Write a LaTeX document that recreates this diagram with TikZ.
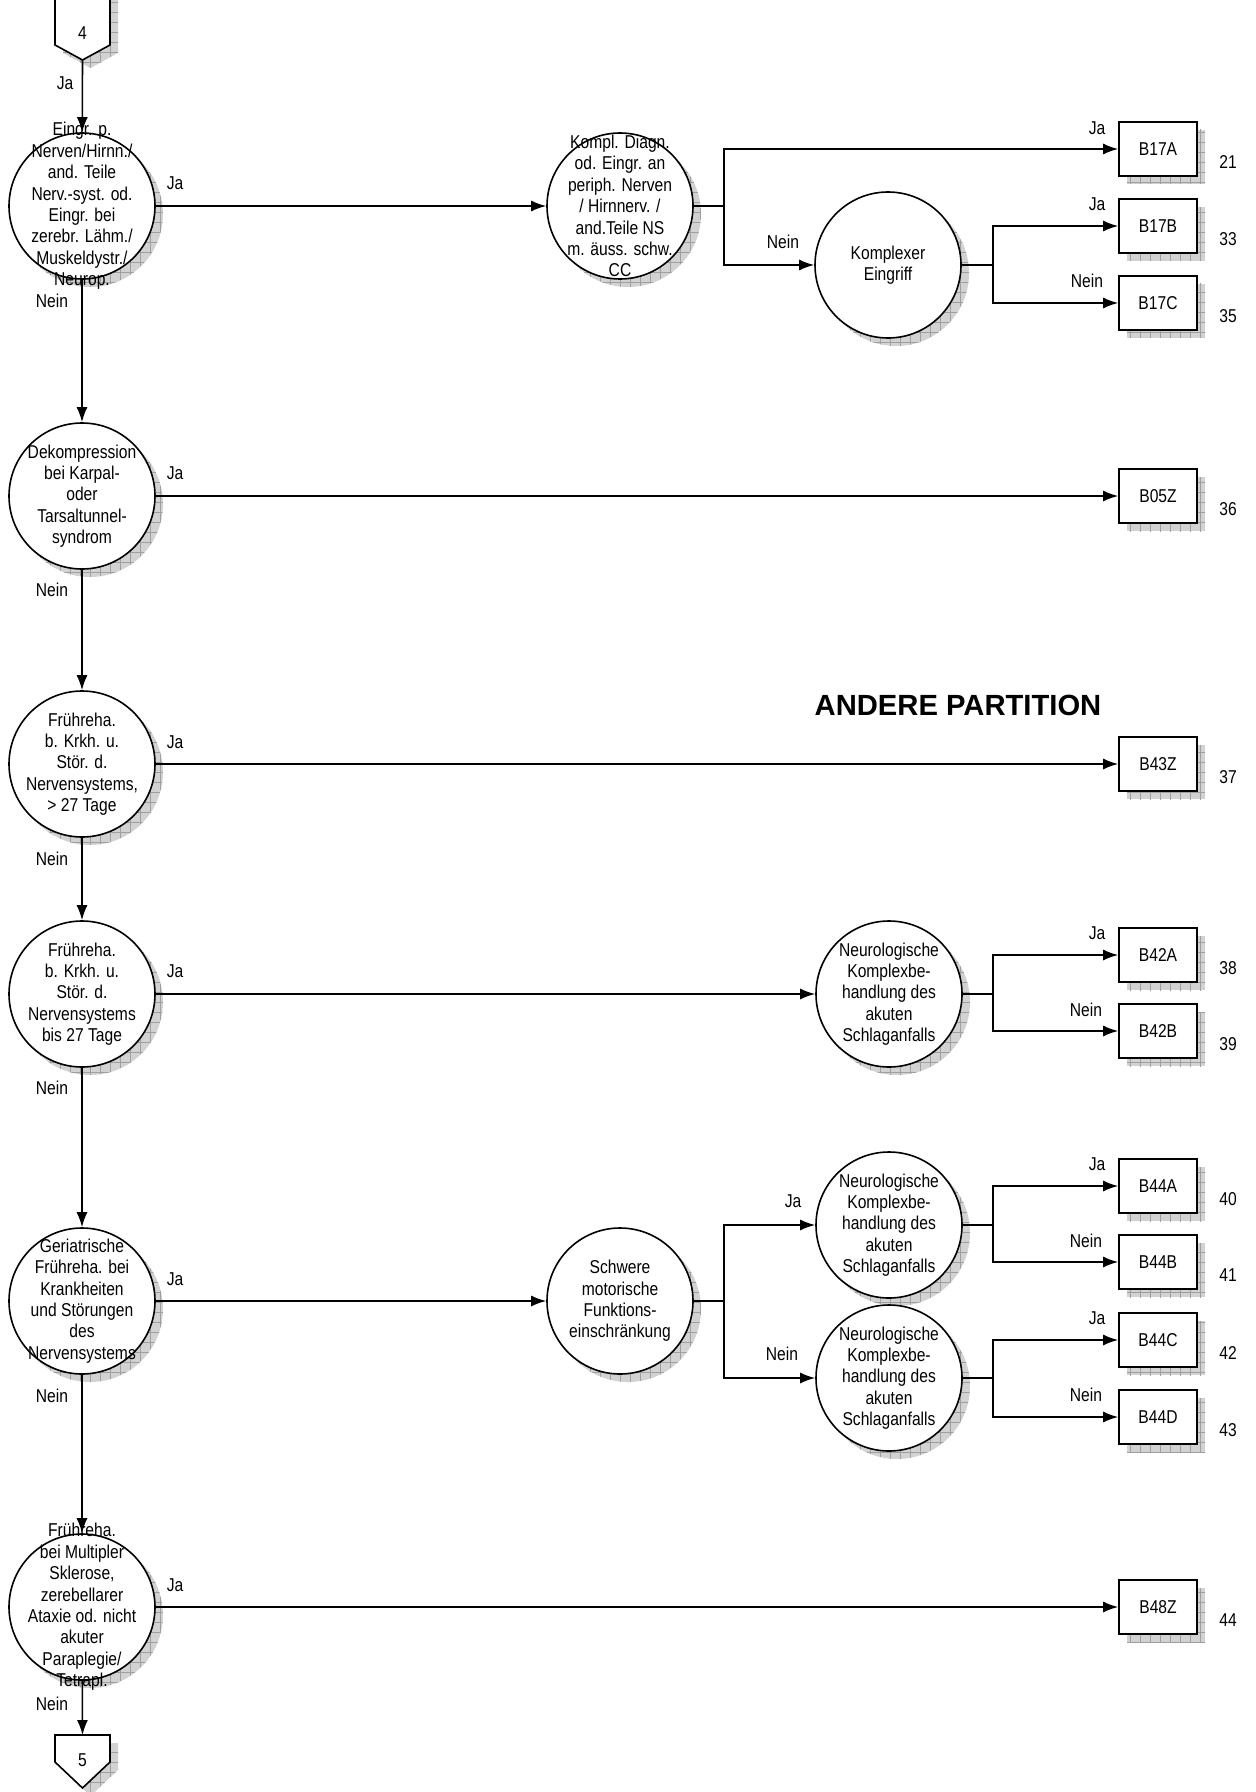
\documentclass[tikz,border=0pt]{standalone}
\usepackage{fontspec}
\setmainfont{Liberation Sans}[FakeStretch=0.84]
\newfontfamily\titelfont{Liberation Sans}
\usetikzlibrary{shapes,arrows.meta,positioning,shadows,patterns.meta}
\newcommand{\klein}{\fontsize{9.3pt}{10.7pt}\selectfont}

\begin{document}
\begin{tikzpicture}[x=0.5pt,y=-0.5pt,
  schatten/.style={drop shadow={shadow xshift=4pt,shadow yshift=-4pt,opacity=1,fill=gray!35},
      drop shadow={shadow xshift=4pt,shadow yshift=-4pt,opacity=1,
      pattern={Hatch[angle=0,distance=5pt,line width=0.3pt]},pattern color=gray!75}},
  frage/.style={draw,circle,line width=0.8pt,fill=white,minimum size=73pt,inner sep=0pt,schatten},
  fragetext/.style={align=center,font=\klein,inner sep=0pt},
  drg/.style={draw,rectangle,line width=0.8pt,fill=white,minimum width=39pt,minimum height=27pt,inner sep=0pt,font=\klein,schatten},
  lbl/.style={font=\klein,inner sep=0pt},
  linie/.style={line width=0.8pt},
  pfeil/.style={line width=0.8pt,-{Latex[length=7.5pt,width=5.5pt]}}]
\useasboundingbox (0,0) rectangle (1255,1792);

% Anschluss 4
\draw[linie,fill=white,schatten] (55,-10) -- (110,-10) -- (110,45) -- (82.5,60) -- (55,45) -- cycle;
\node[lbl] (a4) at (82.5,33) {4};
\coordinate (a4spitze) at (82.5,60);

% Hauptspalte
\node[frage] (k1) at (82,206) {};
\node[fragetext] (k1t) at (k1) {Eingr. p.\\Nerven/Hirnn./\\and. Teile\\Nerv.-syst. od.\\Eingr. bei\\zerebr. Lähm./\\Muskeldystr./\\Neurop.};
\node[frage] (k2) at (82,496) {};
\node[fragetext] (k2t) at (k2) {Dekompression\\bei Karpal-\\oder\\Tarsaltunnel-\\syndrom};
\node[frage] (k3) at (82,764) {};
\node[fragetext] (k3t) at (k3) {Frühreha.\\b. Krkh. u.\\Stör. d.\\Nervensystems,\\> 27 Tage};
\node[frage] (k4) at (82,994) {};
\node[fragetext] (k4t) at (k4) {Frühreha.\\b. Krkh. u.\\Stör. d.\\Nervensystems\\bis 27 Tage};
\node[frage] (k5) at (82,1301) {};
\node[fragetext] (k5t) at (k5) {Geriatrische\\Frühreha. bei\\Krankheiten\\und Störungen\\des\\Nervensystems};
\node[frage] (k6) at (82,1607) {};
\node[fragetext] (k6t) at (k6) {Frühreha.\\bei Multipler\\Sklerose,\\zerebellarer\\Ataxie od. nicht\\akuter\\Paraplegie/\\Tetrapl.};

% Anschluss 5
\draw[linie,fill=white,schatten] (55,1735) -- (110,1735) -- (110,1762) -- (82.5,1788) -- (55,1762) -- cycle;
\node[lbl] (a5) at (82.5,1760) {5};
\coordinate (a5oben) at (82.5,1735);

\draw[pfeil] (a4spitze) -- (k1);
\draw[pfeil] (k1) -- (k2);
\draw[pfeil] (k2) -- (k3);
\draw[pfeil] (k3) -- (k4);
\draw[pfeil] (k4) -- (k5);
\draw[pfeil] (k5) -- (k6);
\draw[pfeil] (k6) -- (a5oben);

\node[lbl] (ja0) at (65,83) {Ja};
\node[lbl] (nein1) at (52,301) {Nein};
\node[lbl] (nein2) at (52,590) {Nein};
\node[lbl] (nein3) at (52,859) {Nein};
\node[lbl] (nein4) at (52,1088) {Nein};
\node[lbl] (nein5) at (52,1396) {Nein};
\node[lbl] (nein6) at (52,1704) {Nein};

% Entscheidungen rechts
\node[frage] (r1) at (620,206) {};
\node[fragetext] (r1t) at (r1) {Kompl. Diagn.\\od. Eingr. an\\periph. Nerven\\/ Hirnnerv. /\\and.Teile NS\\m. äuss. schw.\\CC};
\node[frage] (r2) at (888,265) {};
\node[fragetext] (r2t) at (r2) {Komplexer\\Eingriff};
\node[frage] (r3) at (889,994) {};
\node[fragetext] (r3t) at (r3) {Neurologische\\Komplexbe-\\handlung des\\akuten\\Schlaganfalls};
\node[frage] (r4) at (620,1301) {};
\node[fragetext] (r4t) at (r4) {Schwere\\motorische\\Funktions-\\einschränkung};
\node[frage] (r5) at (889,1225) {};
\node[fragetext] (r5t) at (r5) {Neurologische\\Komplexbe-\\handlung des\\akuten\\Schlaganfalls};
\node[frage] (r6) at (889,1378) {};
\node[fragetext] (r6t) at (r6) {Neurologische\\Komplexbe-\\handlung des\\akuten\\Schlaganfalls};

% DRGs
\node[drg] (b17a) at (1158,149) {B17A};
\node[drg] (b17b) at (1158,226) {B17B};
\node[drg] (b17c) at (1158,303) {B17C};
\node[drg] (b05z) at (1158,496) {B05Z};
\node[drg] (b43z) at (1158,764) {B43Z};
\node[drg] (b42a) at (1158,955) {B42A};
\node[drg] (b42b) at (1158,1031) {B42B};
\node[drg] (b44a) at (1158,1186) {B44A};
\node[drg] (b44b) at (1158,1262) {B44B};
\node[drg] (b44c) at (1158,1340) {B44C};
\node[drg] (b44d) at (1158,1417) {B44D};
\node[drg] (b48z) at (1158,1607) {B48Z};

\node[lbl] (n21) at (1228,162) {21};
\node[lbl] (n33) at (1228,239) {33};
\node[lbl] (n35) at (1228,316) {35};
\node[lbl] (n36) at (1228,509) {36};
\node[lbl] (n37) at (1228,777) {37};
\node[lbl] (n38) at (1228,968) {38};
\node[lbl] (n39) at (1228,1044) {39};
\node[lbl] (n40) at (1228,1199) {40};
\node[lbl] (n41) at (1228,1275) {41};
\node[lbl] (n42) at (1228,1353) {42};
\node[lbl] (n43) at (1228,1430) {43};
\node[lbl] (n44) at (1228,1620) {44};

\node[font=\titelfont\bfseries\fontsize{14.6pt}{16pt}\selectfont] (partition) at (958,705) {ANDERE PARTITION};

% Ja-Zweige
\draw[pfeil] (k1) -- (r1);
\draw[pfeil] (k2) -- (b05z);
\draw[pfeil] (k3) -- (b43z);
\draw[pfeil] (k4) -- (r3);
\draw[pfeil] (k5) -- (r4);
\draw[pfeil] (k6) -- (b48z);
\node[lbl] (ja1) at (175,183) {Ja};
\node[lbl] (ja2) at (175,473) {Ja};
\node[lbl] (ja3) at (175,742) {Ja};
\node[lbl] (ja4) at (175,971) {Ja};
\node[lbl] (ja5) at (175,1279) {Ja};
\node[lbl] (ja6) at (175,1585) {Ja};

% Verzweigungen
\coordinate (v1) at (724,206);
\coordinate (v2) at (993,265);
\coordinate (v3) at (993,994);
\coordinate (v4) at (724,1301);
\coordinate (v5) at (993,1225);
\coordinate (v6) at (993,1378);

\draw[linie] (r1) -- (v1);
\draw[pfeil] (v1) |- (b17a);
\draw[pfeil] (v1) |- (r2);
\draw[linie] (r2) -- (v2);
\draw[pfeil] (v2) |- (b17b);
\draw[pfeil] (v2) |- (b17c);
\draw[linie] (r3) -- (v3);
\draw[pfeil] (v3) |- (b42a);
\draw[pfeil] (v3) |- (b42b);
\draw[linie] (r4) -- (v4);
\draw[pfeil] (v4) |- (r5);
\draw[pfeil] (v4) |- (r6);
\draw[linie] (r5) -- (v5);
\draw[pfeil] (v5) |- (b44a);
\draw[pfeil] (v5) |- (b44b);
\draw[linie] (r6) -- (v6);
\draw[pfeil] (v6) |- (b44c);
\draw[pfeil] (v6) |- (b44d);

\node[lbl] (ja7) at (1097,128) {Ja};
\node[lbl] (nein7) at (783,242) {Nein};
\node[lbl] (ja8) at (1097,204) {Ja};
\node[lbl] (nein8) at (1087,281) {Nein};
\node[lbl] (ja9) at (1097,933) {Ja};
\node[lbl] (nein9) at (1086,1010) {Nein};
\node[lbl] (ja10) at (793,1201) {Ja};
\node[lbl] (nein10) at (782,1354) {Nein};
\node[lbl] (ja11) at (1097,1164) {Ja};
\node[lbl] (nein11) at (1086,1241) {Nein};
\node[lbl] (ja12) at (1097,1318) {Ja};
\node[lbl] (nein12) at (1086,1395) {Nein};
\end{tikzpicture}
\end{document}
